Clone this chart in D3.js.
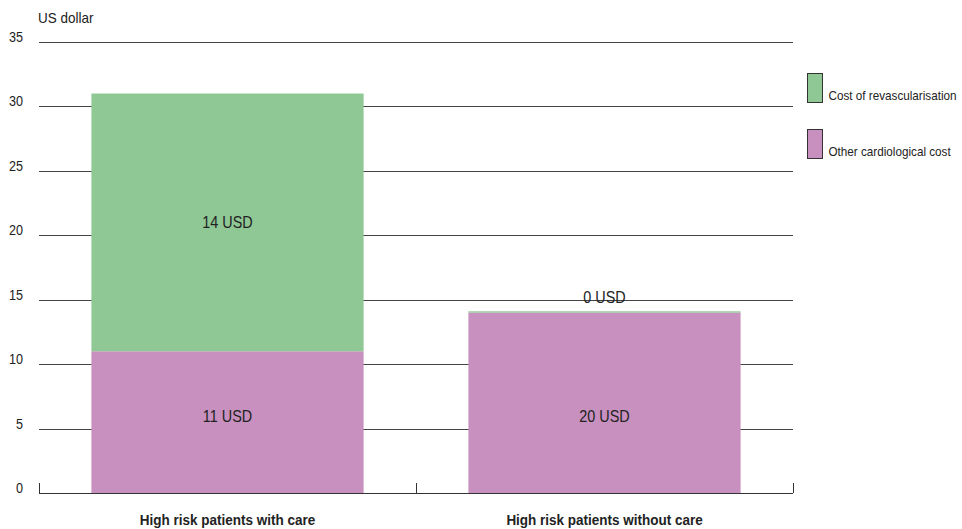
<!DOCTYPE html>
<html lang="en">
<head>
<meta charset="UTF-8">
<title>Cardiological cost</title>
<script src="https://d3js.org/d3.v7.min.js"></script>
<style>
    body { margin: 0; background: #fff; }
    svg text { font-family: 'Liberation Sans', Arial, sans-serif; fill: #222; }
</style>
</head>
<body>
<div id="chart"></div>
<script>
    // values
    const categories = ["High risk patients with care", "High risk patients without care"];
    const otherCost = [11, 14];
    const revascCost = [20, 0.1];
    const otherLabels = ["11 USD", "20 USD"];
    const revascLabels = ["14 USD", "0 USD"];
    const yTicks = [0, 5, 10, 15, 20, 25, 30, 35];
    const seriesNames = ["Cost of revascularisation", "Other cardiological cost"];
    const seriesColors = ["#8fc895", "#c790be"];

    const w = 962, h = 529;
    const plotLeft = 39, plotRight = 793, plotBottom = 493, plotTop = 42;
    const squeeze = 0.9; // no narrow font installed, so condense by hand

    const svg = d3.select("#chart").append("svg")
        .attr("width", w)
        .attr("height", h);

    // place a text at (px, py) and squeeze it horizontally
    const at = (px, py) => `translate(${px},${py}) scale(${squeeze},1)`;

    const x = d3.scaleBand().domain(categories).range([plotLeft, plotRight]).padding(0);
    const y = d3.scaleLinear().domain([0, 35]).range([plotBottom, plotTop]);
    const barW = x.bandwidth() * 0.722;

    // gridlines + tick labels
    svg.append("g").selectAll("line")
        .data(yTicks.filter(d => d > 0))
        .join("line")
        .attr("x1", plotLeft).attr("x2", plotRight)
        .attr("y1", d => Math.round(y(d)) + 0.5).attr("y2", d => Math.round(y(d)) + 0.5)
        .attr("stroke", "#444").attr("stroke-width", 1);

    svg.append("g").selectAll("text")
        .data(yTicks)
        .join("text")
        .attr("transform", d => at(23, y(d)))
        .attr("text-anchor", "end")
        .style("font-size", "14px")
        .text(d => d);

    svg.append("text")
        .attr("transform", at(38, 23))
        .style("font-size", "15px")
        .text("US dollar");

    const rows = categories.map((c, i) => ({cat: c, other: otherCost[i], revasc: revascCost[i]}));
    const stack = d3.stack().keys(["other", "revasc"])(rows);
    const colorOf = {other: seriesColors[1], revasc: seriesColors[0]};

    svg.append("g").selectAll("g")
        .data(stack)
        .join("g")
        .attr("fill", s => colorOf[s.key])
        .selectAll("rect")
        .data(s => s)
        .join("rect")
        .attr("x", d => x(d.data.cat) + (x.bandwidth() - barW) / 2)
        .attr("width", barW)
        .attr("y", d => y(d[1]))
        .attr("height", d => Math.max(1, y(d[0]) - y(d[1])));

    // bottom axis with ticks at band edges
    const axis = svg.append("g").attr("stroke", "#333");
    axis.append("line")
        .attr("x1", plotLeft).attr("x2", plotRight)
        .attr("y1", plotBottom + 0.5).attr("y2", plotBottom + 0.5);
    axis.selectAll("line.tk")
        .data([plotLeft, plotLeft + x.step(), plotRight])
        .join("line")
        .attr("class", "tk")
        .attr("x1", d => d + 0.5).attr("x2", d => d + 0.5)
        .attr("y1", plotBottom).attr("y2", plotBottom - 10);

    // value labels
    const lowRow = y(d3.min(otherCost) / 2);
    svg.append("g").selectAll("text")
        .data(categories)
        .join("text")
        .attr("transform", d => at(x(d) + x.bandwidth() / 2, lowRow))
        .attr("text-anchor", "middle")
        .style("font-size", "16px")
        .text((d, i) => otherLabels[i]);

    svg.append("g").selectAll("text")
        .data(stack[1])
        .join("text")
        .attr("transform", d => {
            const hgt = y(d[0]) - y(d[1]);
            const py = hgt > 20 ? (y(d[0]) + y(d[1])) / 2 + 5.5 : y(d[1]) - 8;
            return at(x(d.data.cat) + x.bandwidth() / 2, py);
        })
        .attr("text-anchor", "middle")
        .style("font-size", "16px")
        .text((d, i) => revascLabels[i]);

    // category labels
    svg.append("g").selectAll("text")
        .data(categories)
        .join("text")
        .attr("transform", d => at(x(d) + x.bandwidth() / 2, 525))
        .attr("text-anchor", "middle")
        .style("font-size", "15px")
        .style("font-weight", "bold")
        .text(d => d);

    // legend
    const legend = svg.append("g").selectAll("g")
        .data(seriesNames)
        .join("g")
        .attr("transform", (d, i) => `translate(807.5, ${73.5 + i * 56})`);
    legend.append("rect")
        .attr("width", 15).attr("height", 29)
        .attr("fill", (d, i) => seriesColors[i])
        .attr("stroke", "#333");
    legend.append("text")
        .attr("transform", at(21, 26))
        .style("font-size", "13px")
        .text(d => d);
</script>
</body>
</html>
